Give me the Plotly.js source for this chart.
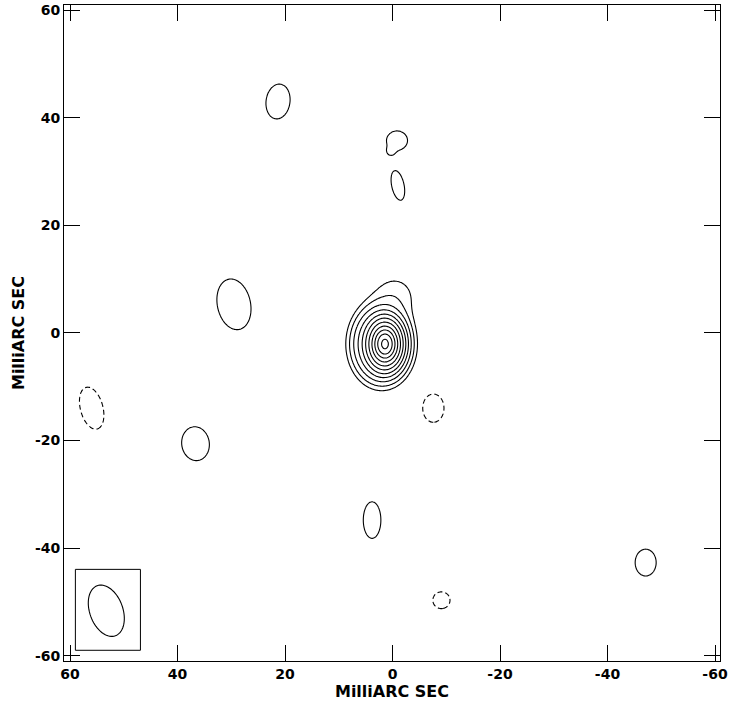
<!DOCTYPE html>
<html>
<head>
<meta charset="utf-8">
<script src="https://cdn.plot.ly/plotly-3.0.1.min.js"></script>
<style>body{margin:0;background:#fff}</style>
</head>
<body>
<div id="map" style="width:736px;height:703px"></div>
<script>
//gaussian components (mas), negative amp = dashed contour
const compX   = [1.40, 1.40, 2.05, -0.47, 21.3, -0.84, 0.35, -1.0, 29.5, 55.97, 36.65, -7.6, 3.8, -47.1, -9.1];
const compY   = [-2.08, -2.08, -2.08, 6.84, 43.0, 35.74, 33.7, 27.4, 5.3, -14.0, -20.6, -14.0, -34.8, -42.7, -49.7];
const compAmp = [862, 379, 31.4, 1.45, 2, 2, 1.2, 2, 2, -2, 2, -2, 2, 2, -2];
const compMaj = [1.17, 2.00, 3.29, 3.07, 2.76, 1.52, 0.6, 2.38, 4.05, 3.40, 2.68, 2.23, 2.89, 2.12, 1.32];
const compMin = [0.84, 1.43, 2.53, 3.07, 1.89, 1.66, 0.6, 0.98, 2.62, 1.78, 2.18, 1.68, 1.39, 1.66, 1.36];
const compPa  = [0, 0, 0, 0, -8, 0, 0, 12, 12, 15, 8, 0, 0, 0, 0];

//contour levels are 1,2,4,...,1024 x lowest level, -1 dashed
const levelSteps = 10;

//restoring beam
const beamMaj = 4.95, beamMin = 3.08, beamPa = 20;
const beamPos = [53.25, -51.65];

const tickVals = [-60, -40, -20, 0, 20, 40, 60];

//build the map grid
const step = 0.2;
let gx = [];
for (let v = -61; v <= 61.0001; v += step) gx.push(+v.toFixed(2));
let gy = gx.slice();
let n = gx.length;
let posField = [], negField = [];
for (let j = 0; j < n; j++) { posField.push(new Float64Array(n)); negField.push(new Float64Array(n)); }

for (let c = 0; c < compX.length; c++) {
  let amp = compAmp[c];
  let target = amp > 0 ? posField : negField;
  let a = Math.abs(amp);
  let th = compPa[c] * Math.PI / 180;
  let s = Math.sin(th), co = Math.cos(th);
  let reach = 6 * Math.max(compMaj[c], compMin[c]);
  let m2 = 2 * compMaj[c] * compMaj[c], n2 = 2 * compMin[c] * compMin[c];
  for (let j = 0; j < n; j++) {
    let dy = gy[j] - compY[c];
    if (Math.abs(dy) > reach) continue;
    for (let i = 0; i < n; i++) {
      let dx = gx[i] - compX[c];
      if (Math.abs(dx) > reach) continue;
      let p = dx * s + dy * co;
      let q = dx * co - dy * s;
      target[j][i] += a * Math.exp(-p * p / m2 - q * q / n2);
    }
  }
}

let logPos = posField.map(row => Array.from(row, v => Math.log2(Math.max(v, 1e-3))));
let logNeg = negField.map(row => Array.from(row, v => Math.log2(Math.max(v, 1e-3))));

var data = [
  {
    //positive contours
    type: 'contour',
    x: gx, y: gy, z: logPos,
    autocontour: false,
    contours: {start: 0, end: levelSteps, size: 1, coloring: 'none'},
    line: {color: '#000', width: 1.1, smoothing: 0.8},
    showscale: false,
    hoverinfo: 'skip'
  },{
    //negative contour
    type: 'contour',
    x: gx, y: gy, z: logNeg,
    autocontour: false,
    contours: {start: 0, end: 0.9, size: 1, coloring: 'none'},
    line: {color: '#000', width: 1.1, dash: '5px,3px', smoothing: 0.8},
    showscale: false,
    hoverinfo: 'skip'
  }
];

//beam outline
let th = beamPa * Math.PI / 180;
let beamPath = '';
for (let k = 0; k <= 72; k++) {
  let t = k / 72 * 2 * Math.PI;
  let p = beamMaj * Math.cos(t), q = beamMin * Math.sin(t);
  let bx = beamPos[0] + p * Math.sin(th) + q * Math.cos(th);
  let by = beamPos[1] + p * Math.cos(th) - q * Math.sin(th);
  beamPath += (k === 0 ? 'M' : 'L') + bx.toFixed(3) + ',' + by.toFixed(3);
}
beamPath += 'Z';

const fontFam = '"DejaVu Sans", "Liberation Sans", Arial, sans-serif';

var axisCommon = {
  tickvals: tickVals,
  ticktext: tickVals.map(String),
  ticks: 'inside',
  ticklen: 16,
  tickwidth: 1,
  tickcolor: '#000',
  showline: true,
  linecolor: '#000',
  linewidth: 1,
  mirror: 'ticks',
  showgrid: false,
  zeroline: false,
  tickfont: {family: fontFam, size: 14, color: '#000', weight: 'bold'}
};

var layout = {
  width: 736,
  height: 703,
  margin: {l: 64, r: 16, t: 5, b: 42},
  paper_bgcolor: '#fff',
  plot_bgcolor: '#fff',
  showlegend: false,
  xaxis: Object.assign({}, axisCommon, {
    range: [61.12, -60.93],
    title: {text: 'MilliARC SEC', standoff: 2, font: {family: fontFam, size: 16, color: '#000', weight: 'bold'}}
  }),
  yaxis: Object.assign({}, axisCommon, {
    range: [-60.99, 60.93],
    title: {text: 'MilliARC SEC', standoff: 6, font: {family: fontFam, size: 16, color: '#000', weight: 'bold'}}
  }),
  shapes: [
    {type: 'rect', xref: 'x', yref: 'y', x0: 59.0, x1: 46.9, y0: -59.0, y1: -43.96,
     line: {color: '#000', width: 1}},
    {type: 'path', xref: 'x', yref: 'y', path: beamPath, line: {color: '#000', width: 1.1}}
  ]
};

Plotly.newPlot('map', data, layout, {displayModeBar: false, staticPlot: true});
</script>
</body>
</html>
